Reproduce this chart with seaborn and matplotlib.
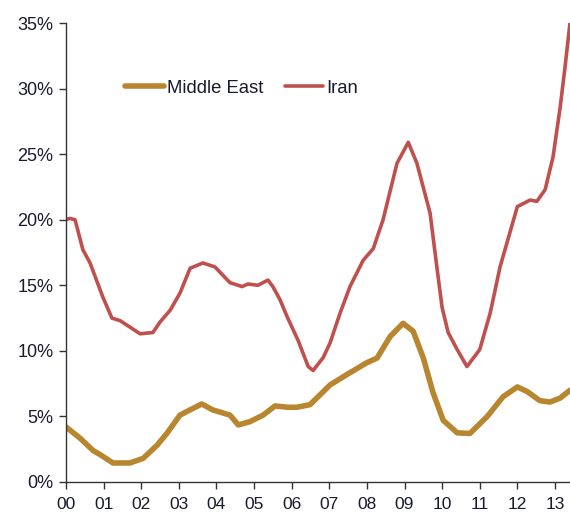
import numpy as np
import pandas as pd
import matplotlib
matplotlib.use('Agg')
import matplotlib.pyplot as plt
import seaborn as sns

# years since Jan 2000
me_x = [0.0, 0.37, 0.72, 0.9, 1.25, 1.7, 2.05, 2.42, 2.68, 3.03, 3.3, 3.61, 3.9,
        4.36, 4.58, 4.89, 5.24, 5.56, 5.88, 6.14, 6.49, 7.02, 7.47, 8.0, 8.27,
        8.62, 8.96, 9.23, 9.5, 9.76, 10.03, 10.4, 10.74, 11.2, 11.62, 12.0,
        12.26, 12.6, 12.87, 13.14, 13.4]
me_y = [4.2, 3.35, 2.4, 2.1, 1.45, 1.45, 1.8, 2.8, 3.7, 5.1, 5.5, 5.95, 5.5,
        5.1, 4.35, 4.6, 5.1, 5.8, 5.7, 5.7, 5.9, 7.4, 8.2, 9.1, 9.45,
        11.1, 12.1, 11.5, 9.45, 6.8, 4.7, 3.75, 3.7, 5.0, 6.5, 7.25,
        6.9, 6.2, 6.1, 6.4, 7.0]

iran_x = [0.0, 0.1, 0.24, 0.45, 0.64, 0.98, 1.22, 1.44, 1.97, 2.31, 2.5, 2.77,
          3.03, 3.3, 3.64, 3.96, 4.36, 4.68, 4.84, 5.1, 5.37, 5.5, 5.69, 5.88,
          6.17, 6.44, 6.57, 6.84, 7.02, 7.29, 7.55, 7.9, 8.17, 8.43, 8.8, 9.1,
          9.33, 9.68, 9.86, 10.0, 10.16, 10.4, 10.66, 11.0, 11.28, 11.54, 11.8,
          12.0, 12.34, 12.52, 12.74, 12.95, 13.14, 13.27, 13.4]
iran_y = [20.0, 20.1, 20.0, 17.7, 16.7, 14.1, 12.5, 12.3, 11.3, 11.4, 12.2, 13.1,
          14.4, 16.3, 16.7, 16.4, 15.2, 14.9, 15.1, 15.0, 15.4, 14.9, 13.9, 12.6,
          10.8, 8.8, 8.5, 9.5, 10.6, 12.9, 14.9, 16.9, 17.8, 20.0, 24.3, 25.9,
          24.3, 20.5, 16.4, 13.3, 11.4, 10.1, 8.8, 10.1, 12.9, 16.4, 19.0,
          21.0, 21.5, 21.4, 22.3, 24.8, 28.6, 31.7, 35.0]

year_labels = ['00', '01', '02', '03', '04', '05', '06', '07', '08', '09',
               '10', '11', '12', '13']
pct_ticks = [0, 5, 10, 15, 20, 25, 30, 35]

sns.set_style('white')
plt.rcParams['font.family'] = ['Liberation Sans', 'DejaVu Sans']

gold = '#B8862F'
red = '#C0504D'
txt = '#1A1A2E'

fig = plt.figure(figsize=(5.7, 5.14), dpi=100)
ax = fig.add_axes([66 / 570, 1 - 482 / 514, 504 / 570, 459 / 514])

me = pd.DataFrame({'year': me_x, 'pct': me_y})
ir = pd.DataFrame({'year': iran_x, 'pct': iran_y})
sns.lineplot(data=me, x='year', y='pct', color=gold, lw=4.0, ax=ax,
             label='Middle East', solid_capstyle='round', solid_joinstyle='round')
sns.lineplot(data=ir, x='year', y='pct', color=red, lw=2.6, ax=ax,
             label='Iran', solid_capstyle='round', solid_joinstyle='round')

ax.set_xlim(0, 13.4)
ax.set_ylim(0, 35)
ax.set_xticks(range(len(year_labels)))
ax.set_xticklabels(year_labels)
ax.set_yticks(pct_ticks)
ax.set_yticklabels(['%d%%' % v for v in pct_ticks])
ax.set_xlabel('')
ax.set_ylabel('')

for s in ['top', 'right']:
    ax.spines[s].set_visible(False)
for s in ['left', 'bottom']:
    ax.spines[s].set_color('#333333')
    ax.spines[s].set_linewidth(1.0)
ax.tick_params(axis='both', direction='out', length=5, width=1, color='#333333',
               labelcolor=txt, left=True, bottom=True)
ax.tick_params(axis='x', pad=6, labelsize=12.5)
ax.tick_params(axis='y', pad=4, labelsize=13)

leg = ax.legend(loc='center left', bbox_to_anchor=(0.118, 0.858), ncol=2,
                frameon=False, fontsize=13.3, handlelength=2.1,
                handletextpad=0.15, columnspacing=1.15, borderpad=0, borderaxespad=0)
for t in leg.get_texts():
    t.set_color(txt)

plt.savefig('out.png', dpi=100)
